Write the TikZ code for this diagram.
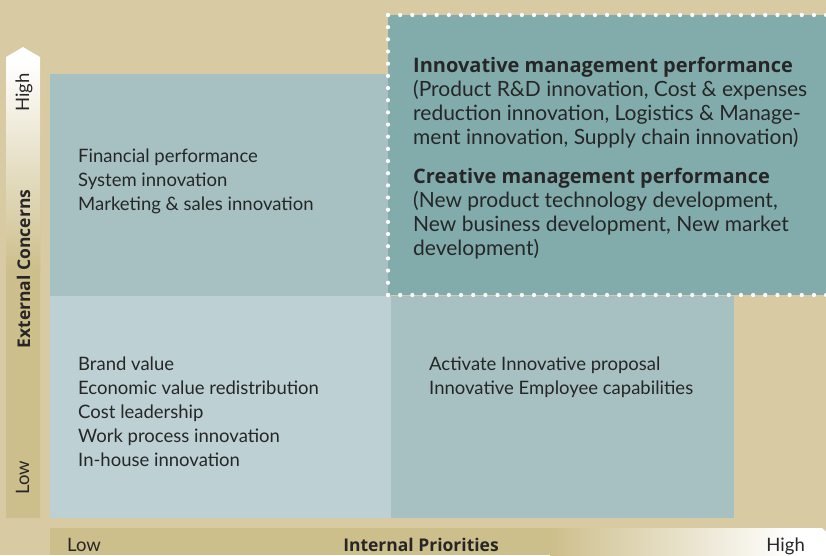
\documentclass[tikz,border=0pt]{standalone}
\usepackage{fontspec}
\setmainfont{Lato}
\newfontfamily\boldfam{Open Sans}
\definecolor{bgtan}{HTML}{D8CAA2}
\definecolor{axistan}{HTML}{CDBF8C}
\definecolor{midteal}{HTML}{A7C1C2}
\definecolor{lightteal}{HTML}{BDD0D4}
\definecolor{darkteal}{HTML}{82ACAC}
\definecolor{txt}{HTML}{262626}
\tikzset{
  item/.style={anchor=base west, inner sep=0pt, text=txt, font=\fontsize{18.5}{22}\selectfont},
  big/.style={anchor=base west, inner sep=0pt, text=txt, font=\fontsize{21}{25}\selectfont},
  bigbold/.style={anchor=base west, inner sep=0pt, text=txt, font=\fontsize{20}{24}\boldfam\bfseries\selectfont},
  axislabel/.style={inner sep=0pt, text=txt, font=\fontsize{18.5}{22}\selectfont},
  axisbold/.style={inner sep=0pt, text=txt, font=\fontsize{17.5}{21}\boldfam\bfseries\selectfont},
  dotline/.style={white, line width=4.2pt, line cap=round, dash pattern=on 0pt off 12.17pt}
}
\begin{document}
\begin{tikzpicture}[x=1pt,y=-1pt]
\useasboundingbox (0,0) rectangle (826,555);
\fill[bgtan] (0,0) rectangle (826,555);
% quadrants
\fill[midteal] (50,74) rectangle (391,296);
\fill[lightteal] (50,296) rectangle (391,518);
\fill[midteal] (391,296) rectangle (734,518);
\fill[darkteal] (388,15) rectangle (826,295);
\draw[dotline] (388,15) -- (830,15);
\draw[dotline] (388,15) -- (388,295);
\draw[dotline] (388,295) -- (830,295);
% vertical axis arrow
\begin{scope}
\clip (6,518) -- (6,57) -- (23,47) -- (40,57) -- (40,518) -- cycle;
\fill[axistan] (0,40) rectangle (50,520);
\shade[top color=white, bottom color=axistan] (0,60) rectangle (50,270);
\fill[white] (0,40) rectangle (50,61);
\end{scope}
\node[axislabel, rotate=90, anchor=base west] (vhigh) at (29,112) {High};
\node[axisbold, rotate=90, anchor=base] (vlabel) at (30,269) {External Concerns};
\node[axislabel, rotate=90, anchor=base west] (vlow) at (29,495) {Low};
% horizontal axis bar
\fill[axistan] (50,528) rectangle (551,555);
\shade[left color=axistan, right color=white] (550,528) rectangle (792,555);
\fill[white] (791,528) -- (822,528) -- (826,532) -- (826,555) -- (791,555) -- cycle;
\node[axislabel, anchor=base west] (hlow) at (67,551) {Low};
\node[axisbold, anchor=base] (hlabel) at (421,551) {Internal Priorities};
\node[axislabel, anchor=base east] (hhigh) at (805,551) {High};
% upper left
\node[item] (ul1) at (78,162) {Financial performance};
\node[item] (ul2) at (78,186) {System innovation};
\node[item] (ul3) at (78,210) {Marketing \& sales innovation};
% lower left
\node[item] (ll1) at (78,370) {Brand value};
\node[item] (ll2) at (78,394) {Economic value redistribution};
\node[item] (ll3) at (78,418) {Cost leadership};
\node[item] (ll4) at (78,442) {Work process innovation};
\node[item] (ll5) at (78,466) {In-house innovation};
% lower right
\node[item] (lr1) at (429,370) {Activate Innovative proposal};
\node[item] (lr2) at (429,394) {Innovative Employee capabilities};
% upper right
\node[bigbold] (ur1) at (413,72) {Innovative management performance};
\node[big] (ur2) at (413,96) {(Product R\&D innovation, Cost \& expenses};
\node[big] (ur3) at (413,120) {reduction innovation, Logistics \& Manage-};
\node[big] (ur4) at (413,144) {ment innovation, Supply chain innovation)};
\node[bigbold] (ur5) at (413,183) {Creative management performance};
\node[big] (ur6) at (413,207) {(New product technology development,};
\node[big] (ur7) at (413,231) {New business development, New market};
\node[big] (ur8) at (413,255) {development)};
\end{tikzpicture}
\end{document}
